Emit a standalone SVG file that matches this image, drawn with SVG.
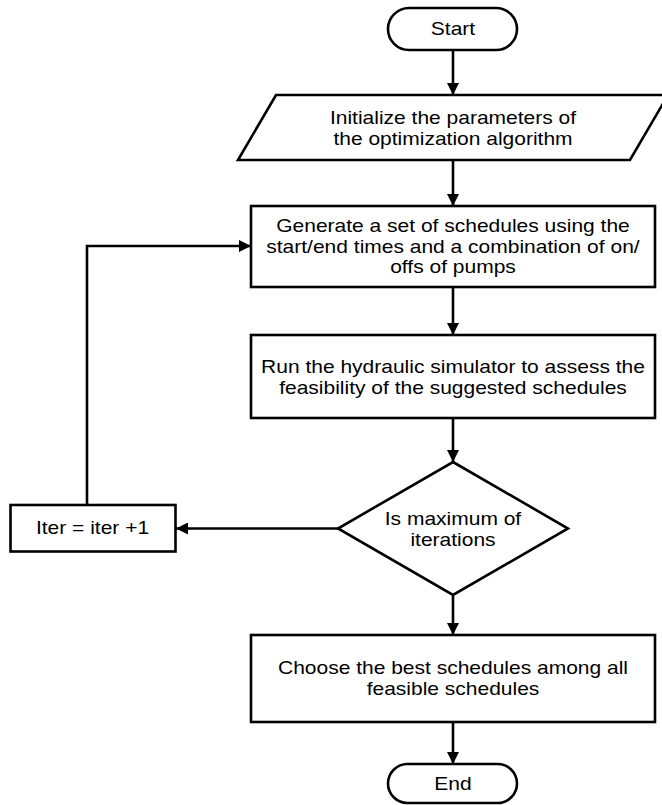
<svg xmlns="http://www.w3.org/2000/svg" width="662" height="805" viewBox="0 0 662 805">
<style>
  .shape { fill: #ffffff; stroke: #000000; stroke-width: 2.6; }
  .conn { fill: none; stroke: #000000; stroke-width: 2.6; }
  text { font-family: "Liberation Sans", Arial, sans-serif; font-size: 19px; fill: #000000; text-anchor: middle; transform-box: fill-box; transform-origin: center; transform: scaleX(1.105); }
</style>
<defs>
  <marker id="arrow" markerUnits="userSpaceOnUse" viewBox="0 0 12 12" refX="12" refY="6" markerWidth="12" markerHeight="12" orient="auto">
    <path d="M0,0 L12,6 L0,12 z" fill="#000000"/>
  </marker>
</defs>
<rect width="662" height="805" fill="#ffffff"/>
<g id="connectors">
  <line class="conn" x1="453" y1="50" x2="453" y2="95" marker-end="url(#arrow)"/>
  <line class="conn" x1="453" y1="160" x2="453" y2="206" marker-end="url(#arrow)"/>
  <line class="conn" x1="453" y1="287" x2="453" y2="335" marker-end="url(#arrow)"/>
  <line class="conn" x1="453" y1="418" x2="453" y2="462" marker-end="url(#arrow)"/>
  <line class="conn" x1="453" y1="595" x2="453" y2="635" marker-end="url(#arrow)"/>
  <line class="conn" x1="453" y1="722" x2="453" y2="764" marker-end="url(#arrow)"/>
  <line class="conn" x1="338" y1="528.5" x2="176" y2="528.5" marker-end="url(#arrow)"/>
  <polyline class="conn" points="87,505 87,246 251,246" marker-end="url(#arrow)"/>
</g>
<g id="start">
  <rect class="shape" x="388" y="8" width="129" height="42" rx="21" ry="21"/>
  <text x="453" y="35.5">Start</text>
</g>
<g id="init">
  <polygon class="shape" points="276,95 668,95 630,160 238,160"/>
  <text x="453" y="124">Initialize the parameters of</text>
  <text x="453" y="145">the optimization algorithm</text>
</g>
<g id="generate">
  <rect class="shape" x="251" y="206" width="404" height="81"/>
  <text x="453" y="232">Generate a set of schedules using the</text>
  <text x="453" y="253">start/end times and a combination of on/</text>
  <text x="453" y="273.5">offs of pumps</text>
</g>
<g id="run">
  <rect class="shape" x="251" y="335" width="404" height="83"/>
  <text x="453" y="373">Run the hydraulic simulator to assess the</text>
  <text x="453" y="394">feasibility of the suggested schedules</text>
</g>
<g id="decision">
  <polygon class="shape" points="453,462 568,528.5 453,595 338,528.5"/>
  <text x="453" y="525">Is maximum of</text>
  <text x="453" y="546">iterations</text>
</g>
<g id="iter">
  <rect class="shape" x="10.5" y="505" width="165" height="46.5"/>
  <text x="92.5" y="534">Iter = iter +1</text>
</g>
<g id="choose">
  <rect class="shape" x="251" y="635" width="404" height="87"/>
  <text x="453" y="674">Choose the best schedules among all</text>
  <text x="453" y="695">feasible schedules</text>
</g>
<g id="end">
  <rect class="shape" x="388" y="764" width="129" height="39" rx="19.5" ry="19.5"/>
  <text x="453" y="790.5">End</text>
</g>
</svg>
